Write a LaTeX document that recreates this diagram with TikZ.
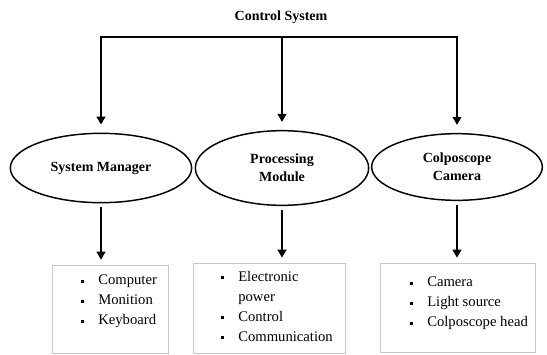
\documentclass[tikz,border=0pt]{standalone}
\usepackage{fontspec}
\setmainfont{Liberation Serif}
\usetikzlibrary{shapes.geometric,arrows.meta,positioning}
\newcommand{\sqbul}{\rule[1.6pt]{2.4pt}{2.4pt}}
\newcommand{\itm}[1]{\makebox[12.75pt][l]{\sqbul}#1}
\newcommand{\cont}[1]{\makebox[12.75pt]{}#1}

\begin{document}
\begin{tikzpicture}[x=0.75pt,y=-0.75pt,
	part/.style={ellipse,draw,line width=1.1pt,align=center,inner sep=0pt,
		font=\bfseries\fontsize{10.5}{13.5}\selectfont},
	feed/.style={line width=2.2pt,-{Triangle[length=6pt,width=6.5pt]}},
	listbox/.style={draw=black!22,line width=0.6pt,inner sep=0pt,anchor=north west},
	items/.style={font=\fontsize{11}{15}\selectfont,align=left,inner sep=0pt,anchor=north west}]
	\useasboundingbox (0,0) rectangle (547,354);
	% Title and the bar
	\node[font=\bfseries\fontsize{10.5}{12}\selectfont] (title) at (281,17) {Control System};
	\coordinate (bar) at (282,37);
	% Parts
	\node[part,minimum width=136pt,minimum height=52pt] (sm) at (101,168) {System Manager};
	\node[part,minimum width=130pt,minimum height=56pt] (pm) at (282,168) {Processing\\Module};
	\node[part,minimum width=128pt,minimum height=50pt] (cc) at (457,167) {Colposcope\\Camera};
	% Boxes
	\node[listbox,minimum width=87pt,minimum height=66pt] (smbox) at (52,265) {};
	\node[listbox,minimum width=114pt,minimum height=67.5pt] (pmbox) at (193,263) {};
	\node[listbox,minimum width=116pt,minimum height=67pt] (ccbox) at (380,263) {};
	% Lists
	\node[items] (smitems) at (81,275) {\itm{Computer}\\\itm{Monition}\\\itm{Keyboard}};
	\node[items] (pmitems) at (221,271) {\itm{Electronic}\\\cont{power}\\\itm{Control}\\\itm{Communication}};
	\node[items] (ccitems) at (410,277) {\itm{Camera}\\\itm{Light source}\\\itm{Colposcope head}};
	% Arrows from the bar
	\draw[feed,shorten >=6pt] (bar) -| (sm);
	\draw[feed,shorten >=6pt] (bar) -- (pm);
	\draw[feed,shorten >=6pt] (bar) -| (cc);
	% Arrows to the boxes
	\draw[feed,shorten <=3pt,shorten >=4pt] (sm) -- (sm |- smbox.north);
	\draw[feed,shorten <=3pt,shorten >=4pt] (pm) -- (pm |- pmbox.north);
	\draw[feed,shorten <=3pt,shorten >=4pt] (cc) -- (cc |- ccbox.north);
\end{tikzpicture}
\end{document}
